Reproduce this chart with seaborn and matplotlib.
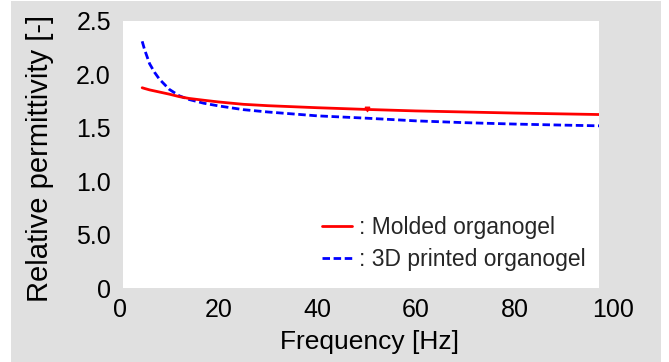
import numpy as np
import pandas as pd
import matplotlib
matplotlib.use("Agg")
import matplotlib.pyplot as plt
from matplotlib.patches import Rectangle
from matplotlib.lines import Line2D
import seaborn as sns

# values
freq = [4.5, 5, 6, 7, 8, 10, 12, 14, 17, 20, 25, 30, 40, 50, 60, 70, 80, 90, 100]
molded = [1.875, 1.868, 1.855, 1.845, 1.835, 1.815, 1.792, 1.775, 1.758, 1.742,
          1.72, 1.707, 1.688, 1.672, 1.658, 1.648, 1.638, 1.63, 1.622]
printed = [2.31, 2.23, 2.10, 2.02, 1.955, 1.86, 1.80, 1.765, 1.73, 1.705,
           1.67, 1.648, 1.612, 1.59, 1.565, 1.548, 1.535, 1.525, 1.516]
xticks = [0, 20, 40, 60, 80, 100]
yticks = [0, 0.5, 1.0, 1.5, 2.0, 2.5]
ytick_labels = ["0", "5.0", "1.0", "1.5", "2.0", "2.5"]
labels = [": Molded organogel", ": 3D printed organogel"]

df = pd.DataFrame({"freq": freq, "molded": molded, "printed": printed})

sns.set_theme(style="white")
plt.rcParams["font.family"] = ["Liberation Sans", "DejaVu Sans"]

W, H = 669, 362
fig = plt.figure(figsize=(W / 100, H / 100), dpi=100)
fig.patch.set_facecolor("white")
# gray panel behind everything
fig.patches.append(Rectangle((11 / W, 0), 650 / W, 361 / H, transform=fig.transFigure,
                             facecolor="#e0e0e0", edgecolor="none", zorder=-10))

ax = fig.add_axes([120 / W, (H - 288) / H, 493 / W, 267 / H])
ax.patch.set_visible(False)
plot_area = Rectangle((3 / 493, 0), 476 / 493, 1, transform=ax.transAxes,
                      facecolor="white", edgecolor="none", zorder=0)
ax.add_patch(plot_area)

sns.lineplot(data=df, x="freq", y="molded", ax=ax, color="#ff0000", linewidth=2.0, zorder=3)
sns.lineplot(data=df, x="freq", y="printed", ax=ax, color="#0000ff", linewidth=2.0, zorder=2)
ax.lines[1].set_dashes((2.7, 1.3))
# small arrowhead on the molded curve at 50 Hz
ax.lines[0].set_marker("v")
ax.lines[0].set_markersize(3.5)
ax.lines[0].set_markerfacecolor("#ff0000")
ax.lines[0].set_markeredgecolor("#ff0000")
ax.lines[0].set_markevery([freq.index(50)])
for ln in ax.lines:
    ln.set_clip_path(plot_area)

ax.set_xlim(0, 100)
ax.set_ylim(0, 2.5)
ax.set_xticks(xticks)
ax.set_yticks(yticks)
ax.set_yticklabels(ytick_labels)
ax.tick_params(axis="both", length=0, labelsize=18, colors="black")
ax.tick_params(axis="x", pad=7)
ax.tick_params(axis="y", pad=6.5)
for s in ax.spines.values():
    s.set_visible(False)
ax.set_xlabel("")
ax.set_ylabel("")

fig.text(40 / W, 1 - 158 / H, "Relative permittivity [-]", rotation=90,
         ha="center", va="center", fontsize=21, color="black")
fig.text(370 / W, 1 - 349 / H, "Frequency [Hz]", ha="center", va="baseline",
         fontsize=19, color="black")

handles = [Line2D([], [], color="#ff0000", linewidth=2.0),
           Line2D([], [], color="#0000ff", linewidth=2.0, dashes=(2.7, 1.3))]
ax.legend(handles, labels, loc="upper left", bbox_to_anchor=(322 / W, 1 - 216 / H),
          bbox_transform=fig.transFigure, frameon=False, borderpad=0, borderaxespad=0,
          handlelength=1.3, handletextpad=0.3, labelspacing=0.4, fontsize=16.5)

fig.savefig("out.png", dpi=100)
